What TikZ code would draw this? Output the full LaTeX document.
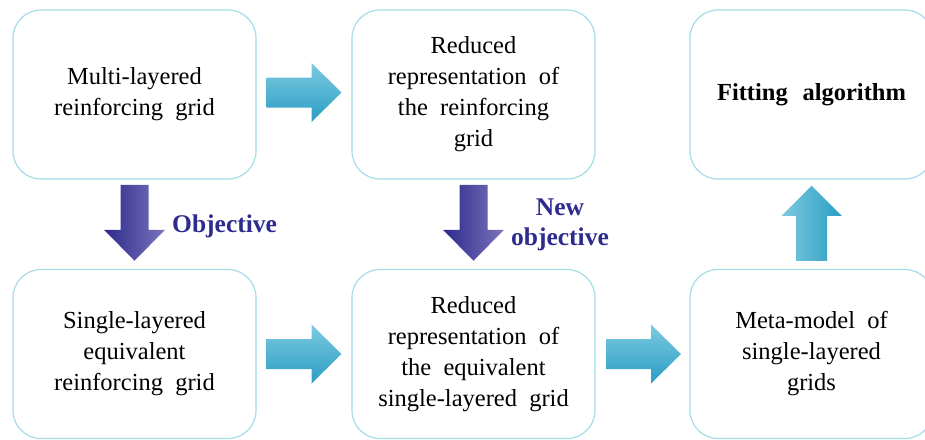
\documentclass[tikz,border=0pt]{standalone}
\usepackage{fontspec}
\setmainfont{Liberation Serif}
\usetikzlibrary{calc}
\definecolor{boxcol}{HTML}{A4DCE8}
\definecolor{tealL}{HTML}{7DCAE0}
\definecolor{tealD}{HTML}{2A9DC3}
\definecolor{purD}{HTML}{2D2A8C}
\definecolor{purL}{HTML}{7C74BC}
\definecolor{objcol}{HTML}{2E2B8E}
\begin{document}
\begin{tikzpicture}[x=1pt,y=-1pt,
  box/.style={draw=boxcol, line width=1.2pt, rounded corners=28pt,
    minimum width=243pt, minimum height=169pt, align=center, inner sep=0pt,
    font={\fontsize{24.5}{31}\selectfont\spaceskip=0.5em\relax}},
  boldbox/.style={box, font={\bfseries\fontsize{24.5}{31}\selectfont\spaceskip=0.6em\relax}},
  lbl/.style={text=objcol, inner sep=0pt, font={\bfseries\fontsize{25.5}{30}\selectfont}},
  rarr/.pic={\shade[top color=tealL, bottom color=tealD]
     (-37.5,-15) -- (7.5,-15) -- (7.5,-29.5) -- (37.5,0) -- (7.5,29.5) -- (7.5,15) -- (-37.5,15) -- cycle;},
  darr/.pic={\shade[left color=purD, right color=purL]
     (-14,-38) -- (14,-38) -- (14,7) -- (30.5,7) -- (0,38) -- (-30.5,7) -- (-14,7) -- cycle;},
  uarr/.pic={\shade[left color=tealL, right color=tealD]
     (-15.5,37.5) -- (15.5,37.5) -- (15.5,-7.5) -- (30,-7.5) -- (0,-37.5) -- (-30,-7.5) -- (-15.5,-7.5) -- cycle;}
]
\useasboundingbox (0,0) rectangle (925,439);
\clip (0,0) rectangle (925,439);
\node[box] (b1) at (134.5,94.5) {Multi-layered\\reinforcing grid};
\node[box] (b2) at (473.5,94.5) {Reduced\\representation of\\the reinforcing\\grid};
\node[boldbox] (b3) at (811.5,94.5) {Fitting algorithm};
\node[box] (b4) at (134.5,354) {Single-layered\\equivalent\\reinforcing grid};
\node[box] (b5) at (473.5,354) {Reduced\\representation of\\the equivalent\\single-layered grid};
\node[box] (b6) at (811.5,354) {Meta-model of\\single-layered\\grids};
\coordinate (a12) at ($(b1.east)!0.5!(b2.west)+(0,-2)$);
\coordinate (a45) at ($(b4.east)!0.5!(b5.west)$);
\coordinate (a56) at ($(b5.east)!0.5!(b6.west)+(1,0)$);
\coordinate (a14) at ($(b1.south)!0.5!(b4.north)+(0,-1.5)$);
\coordinate (a25) at ($(b2.south)!0.5!(b5.north)+(0,-1.5)$);
\coordinate (a63) at ($(b6.north)!0.5!(b3.south)+(0,-1)$);
\pic at (a12) {rarr};
\pic at (a45) {rarr};
\pic at (a56) {rarr};
\pic at (a14) {darr};
\pic at (a25) {darr};
\pic at (a63) {uarr};
\node[lbl, anchor=base west] (obj) at (172,232) {Objective};
\node[lbl, anchor=base] (new) at (560,215) {New};
\node[lbl, anchor=base] (newobj) at (560,245) {objective};
\end{tikzpicture}
\end{document}
